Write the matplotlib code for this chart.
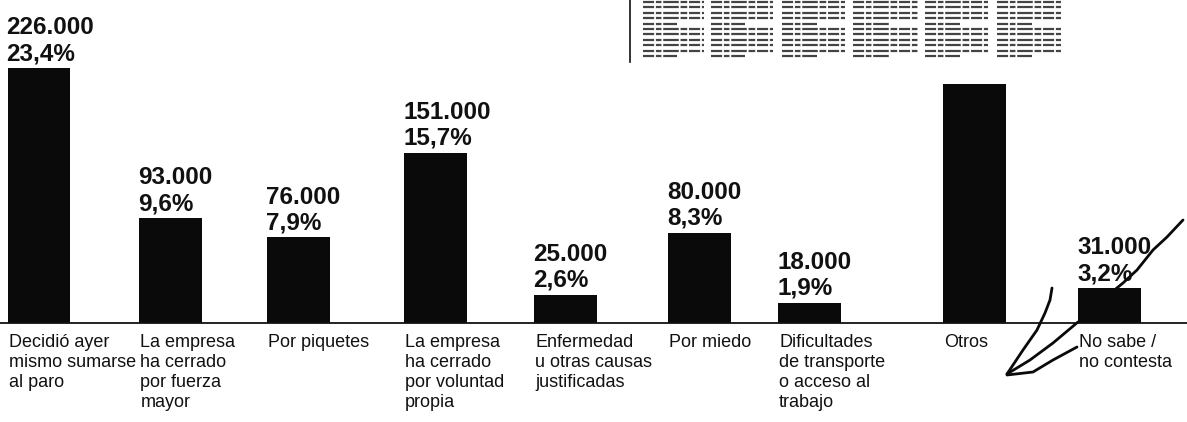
import matplotlib
matplotlib.use('Agg')
import matplotlib.pyplot as plt

# data (Otros label is hidden under the pasted newspaper piece)
categories = [
    "Decidió ayer\nmismo sumarse\nal paro",
    "La empresa\nha cerrado\npor fuerza\nmayor",
    "Por piquetes",
    "La empresa\nha cerrado\npor voluntad\npropia",
    "Enfermedad\nu otras causas\njustificadas",
    "Por miedo",
    "Dificultades\nde transporte\no acceso al\ntrabajo",
    "Otros",
    "No sabe /\nno contesta",
]
values = [226000, 93000, 76000, 151000, 25000, 80000, 18000, 212000, 31000]
value_labels = ["226.000", "93.000", "76.000", "151.000", "25.000",
                "80.000", "18.000", None, "31.000"]
pct_labels = ["23,4%", "9,6%", "7,9%", "15,7%", "2,6%",
              "8,3%", "1,9%", None, "3,2%"]

# layout: column slots are not evenly spaced in the original
slots = [0, 0.985, 1.94, 2.96, 3.93, 4.93, 5.75, 6.98, 7.99]
BAR_W = 0.47

plt.rcParams['font.family'] = ['Liberation Sans', 'DejaVu Sans']

fig = plt.figure(figsize=(11.87, 4.22), dpi=100)
ax = fig.add_axes([0, 0, 1, 1])
ax.set_xlim(-0.291, 8.567)
ax.set_ylim(-87700, 286300)
ax.axis('off')

ax.bar(slots, values, width=BAR_W, color='#0a0a0a', align='center', zorder=2)
ax.axhline(0, color='#111111', lw=1.3, zorder=3)

for x, v, vl, pl, cat in zip(slots, values, value_labels, pct_labels, categories):
    left = x - BAR_W / 2
    if vl is not None:
        ax.annotate(f"{vl}\n{pl}", xy=(left, v), xytext=(-1, 3),
                    textcoords='offset pixels', ha='left', va='bottom',
                    fontsize=17.5, fontweight='bold', linespacing=1.15,
                    color='#111111')
    ax.annotate(cat, xy=(left, 0), xytext=(1, -11), textcoords='offset pixels',
                ha='left', va='top', fontsize=13, linespacing=1.22,
                color='#111111')

# overlay in pixel coords for the pasted newspaper piece and the pen marks
deco = fig.add_axes([0, 0, 1, 1])
deco.set_xlim(0, 1187)
deco.set_ylim(422, 0)
deco.axis('off')

deco.plot([630, 630], [0, 62], color='#111111', lw=1.2)
columns = [(643, 704), (711, 773), (782, 845), (853, 918), (925, 988), (997, 1061)]
rows = [2 + 5.4 * i for i in range(11)]
for c0, c1 in columns:
    for i, r in enumerate(rows):
        end = c1 if i not in (4, 10) else c0 + (c1 - c0) * 0.55
        deco.plot([c0, end], [r, r], color='#444444', lw=1.6,
                  dashes=[5, 0.8, 2.5, 0.8, 7, 0.8, 3, 0.8])

pen = [
    ([1183, 1167, 1153, 1137, 1123, 1112], [220, 237, 250, 270, 283, 292]),
    ([1052, 1050, 1045, 1037, 1023, 1007], [288, 300, 313, 330, 350, 374]),
    ([1007, 1030, 1053, 1078], [374, 360, 343, 322]),
    ([1007, 1033, 1053, 1077], [375, 372, 360, 347]),
]
for xs, ys in pen:
    deco.plot(xs, ys, color='#0a0a0a', lw=2.0, solid_capstyle='round',
              solid_joinstyle='round')

fig.savefig('out.png', dpi=100)
